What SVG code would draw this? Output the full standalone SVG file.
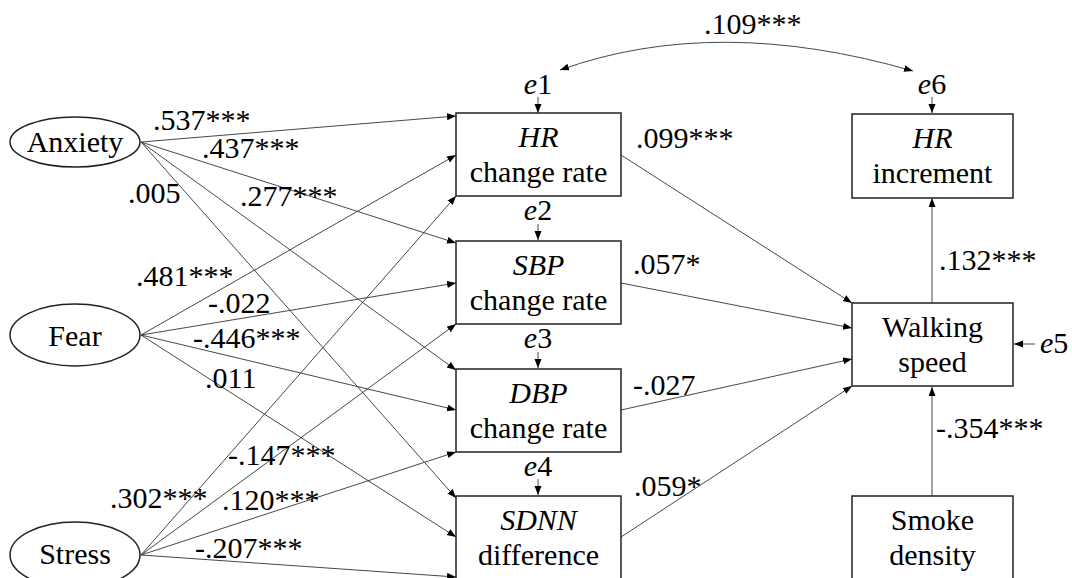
<svg xmlns="http://www.w3.org/2000/svg" width="1072" height="578" viewBox="0 0 1072 578">
<defs>
<marker id="ah" markerUnits="userSpaceOnUse" markerWidth="10" markerHeight="8" refX="9" refY="3.5" orient="auto-start-reverse">
<path d="M0,0 L9,3.5 L0,7 z" fill="#000"/>
</marker>
<style>
text{font-family:'Liberation Serif','Times New Roman',serif;font-size:30px;fill:#000}
.c{text-anchor:middle}
.i{font-style:italic}
.node{fill:#fff;stroke:#222;stroke-width:1.5}
.edge{fill:none;stroke:#333;stroke-width:0.9;marker-end:url(#ah)}
</style>
</defs>
<rect width="1072" height="578" fill="#fff"/>
<g id="connectors">
<path class="edge" d="M141,142 L456,116"/>
<path class="edge" d="M141,142 L456,243"/>
<path class="edge" d="M141,142 L456,370"/>
<path class="edge" d="M141,142 L456,498"/>
<path class="edge" d="M141,335 L456,155"/>
<path class="edge" d="M141,335 L456,283"/>
<path class="edge" d="M141,335 L456,410"/>
<path class="edge" d="M141,335 L456,537"/>
<path class="edge" d="M141,555 L456,196"/>
<path class="edge" d="M141,555 L456,324"/>
<path class="edge" d="M141,555 L456,452"/>
<path class="edge" d="M141,555 L456,577"/>
<path class="edge" d="M621,155 L852,303"/>
<path class="edge" d="M621,283 L852,328"/>
<path class="edge" d="M621,410 L852,359"/>
<path class="edge" d="M621,537 L852,386"/>
<path class="edge" d="M932,303 L932,198"/>
<path class="edge" d="M932,496 L932,387"/>
<path class="edge" d="M1035,344 L1014,344"/>
<path class="edge" d="M538,97 L538,113"/>
<path class="edge" d="M538,224 L538,240"/>
<path class="edge" d="M538,352 L538,368"/>
<path class="edge" d="M538,479 L538,495"/>
<path class="edge" d="M932,97 L932,113"/>
<path class="edge" d="M560,70 Q716,14 913,71" style="marker-start:url(#ah)"/>
</g>
<g id="labels">
<text x="704" y="34">.109***</text>
<text x="153" y="130">.537***</text>
<text x="202" y="158">.437***</text>
<text x="128" y="203">.005</text>
<text x="240" y="206">.277***</text>
<text x="136" y="286">.481***</text>
<text x="208" y="313">-.022</text>
<text x="193" y="348">-.446***</text>
<text x="205" y="388">.011</text>
<text x="228" y="465">-.147***</text>
<text x="110" y="508">.302***</text>
<text x="222" y="510">.120***</text>
<text x="195" y="558">-.207***</text>
<text x="636" y="148">.099***</text>
<text x="633" y="274">.057*</text>
<text x="633" y="395">-.027</text>
<text x="634" y="496">.059*</text>
<text x="939" y="270">.132***</text>
<text x="936" y="438">-.354***</text>
<text x="1040" y="353"><tspan class="i">e</tspan>5</text>
<text class="c" x="538" y="94"><tspan class="i">e</tspan>1</text>
<text class="c" x="538" y="220"><tspan class="i">e</tspan>2</text>
<text class="c" x="538" y="348"><tspan class="i">e</tspan>3</text>
<text class="c" x="538" y="476"><tspan class="i">e</tspan>4</text>
<text class="c" x="932" y="94"><tspan class="i">e</tspan>6</text>
</g>
<g id="anxiety">
<ellipse class="node" cx="75" cy="142" rx="65" ry="25"/>
<text class="c" x="75" y="152">Anxiety</text>
</g>
<g id="fear">
<ellipse class="node" cx="75" cy="335" rx="65" ry="31"/>
<text class="c" x="75" y="346">Fear</text>
</g>
<g id="stress">
<ellipse class="node" cx="75" cy="555" rx="65" ry="33"/>
<text class="c" x="75" y="564">Stress</text>
</g>
<g id="hr-change">
<rect class="node" x="456" y="113" width="165" height="83"/>
<text class="c i" x="538.5" y="147">HR</text>
<text class="c" x="538.5" y="182">change rate</text>
</g>
<g id="sbp-change">
<rect class="node" x="456" y="241" width="165" height="83"/>
<text class="c i" x="538.5" y="275">SBP</text>
<text class="c" x="538.5" y="310">change rate</text>
</g>
<g id="dbp-change">
<rect class="node" x="456" y="369" width="165" height="83"/>
<text class="c i" x="538.5" y="403">DBP</text>
<text class="c" x="538.5" y="438">change rate</text>
</g>
<g id="sdnn-diff">
<rect class="node" x="456" y="496" width="165" height="83"/>
<text class="c i" x="538.5" y="530">SDNN</text>
<text class="c" x="538.5" y="565">difference</text>
</g>
<g id="hr-increment">
<rect class="node" x="852" y="114" width="161" height="84"/>
<text class="c i" x="932.5" y="148">HR</text>
<text class="c" x="932.5" y="183">increment</text>
</g>
<g id="walking-speed">
<rect class="node" x="852" y="303" width="161" height="83"/>
<text class="c" x="932.5" y="337">Walking</text>
<text class="c" x="932.5" y="372">speed</text>
</g>
<g id="smoke-density">
<rect class="node" x="852" y="496" width="161" height="83"/>
<text class="c" x="932.5" y="530">Smoke</text>
<text class="c" x="932.5" y="565">density</text>
</g>
</svg>
